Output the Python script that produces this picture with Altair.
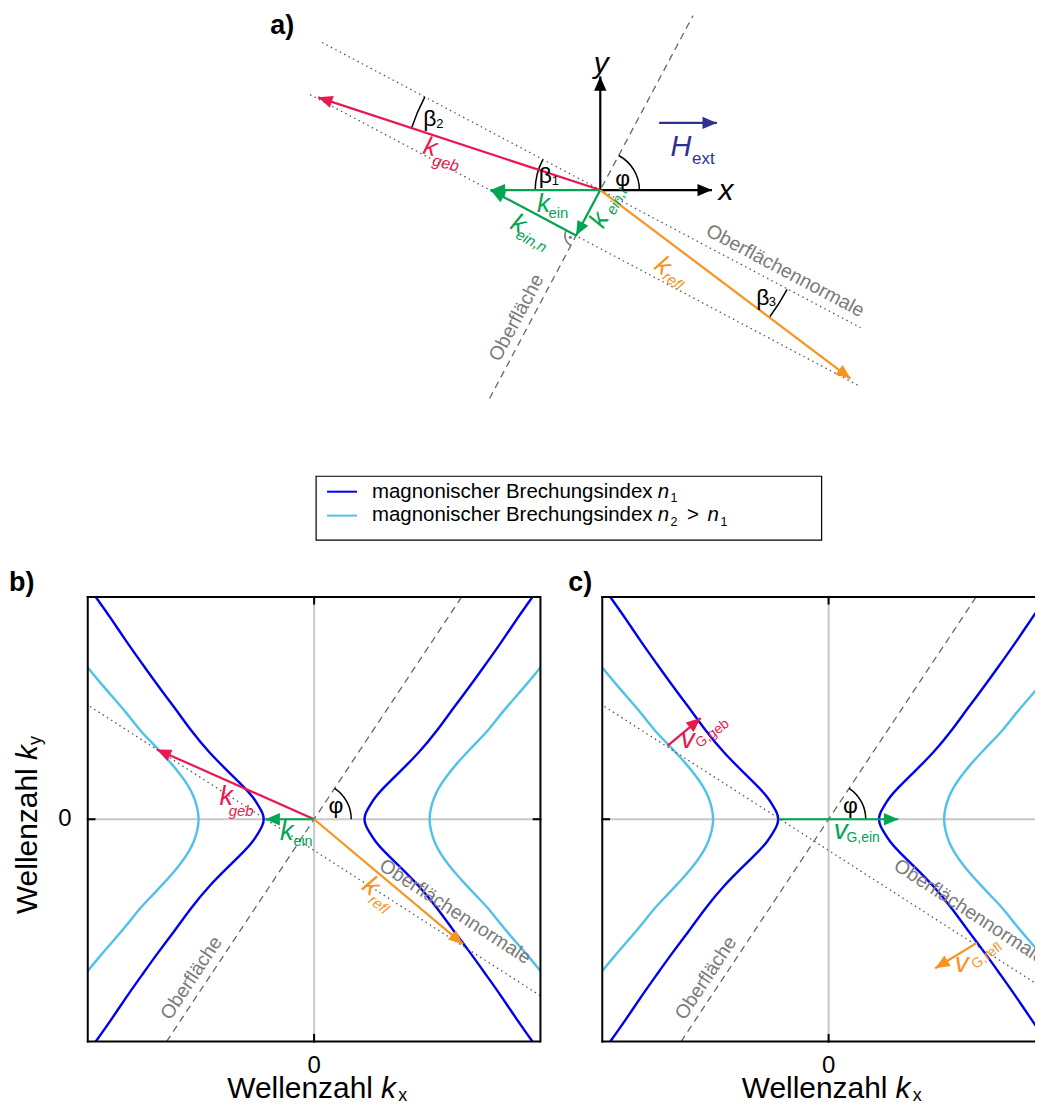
import math
import altair as alt
import pandas as pd

FONT = "Liberation Sans"
RED = "#e8194f"
GREEN = "#00a651"
ORANGE = "#f7941d"
BLUE = "#0000ee"
CYAN = "#4fc1ea"
NAVY = "#2e3192"
GRAY_TXT = "#7b7b7b"
GRAY_LINE = "#666666"
DOT_LINE = "#555555"
ZERO_LINE = "#c8c8c8"
BLACK = "#000000"

# ---------------- values ----------------
# one quarter of each iso-frequency curve: |k_x| for k_y >= 0 (panels b, c; axis range -1..1)
n1_ky = [0.0, 0.03, 0.06, 0.10, 0.14, 0.20, 0.30, 0.40, 0.50, 0.60, 0.70, 0.80, 0.90, 1.00, 1.05]
n1_kx = [0.220, 0.228, 0.245, 0.270, 0.305, 0.365, 0.465, 0.545, 0.615, 0.690, 0.760, 0.830, 0.895, 0.965, 1.000]
n2_ky = [0.0, 0.05, 0.10, 0.15, 0.20, 0.25, 0.30, 0.35, 0.40, 0.48, 0.55, 0.62, 0.67, 0.72]
n2_kx = [0.508, 0.515, 0.530, 0.555, 0.590, 0.630, 0.675, 0.722, 0.770, 0.830, 0.890, 0.950, 0.990, 1.030]

# panel a: vectors (origin = crossing of x and y axes)
a_arrow_x1 = [0.00, 0.00, 0.59, 0.00, 0.00, 0.00, -0.2425, 0.00]
a_arrow_y1 = [0.00, 0.00, 0.673, 0.00, 0.00, 0.00, -0.456, 0.00]
a_arrow_x2 = [1.12, 0.00, 1.17, -2.83, -1.10, -0.2425, -1.10, 2.51]
a_arrow_y2 = [0.00, 1.14, 0.673, 0.93, 0.00, -0.456, 0.00, -1.89]
a_arrow_col = [BLACK, BLACK, NAVY, RED, GREEN, GREEN, GREEN, ORANGE]
# panel a: surface (dashed) and surface normals (dotted)
a_surf = [-1.11, -2.09, 0.93, 1.75]
a_norm_x1 = [-2.79, -2.91]
a_norm_y1 = [1.48, 0.957]
a_norm_x2 = [2.61, 2.61]
a_norm_y2 = [-1.38, -1.971]
# panel a: angle arcs (centre, radius in px, from/to angle in degrees)
a_arc_cx = [0.0, 0.0, 0.0, 0.0, -0.2425]
a_arc_cy = [0.0, 0.0, 0.0, 0.0, -0.456]
a_arc_r = [40, 66, 200, 213, 12]
a_arc_from = [0, 152, 152, -37, 152]
a_arc_to = [62, 180, 162, -28, 242]
a_arc_col = [BLACK, BLACK, BLACK, BLACK, GRAY_TXT]

# panel b: wave vectors
b_arrow_x1 = [0.0, 0.0, 0.0]
b_arrow_y1 = [0.0, 0.0, 0.0]
b_arrow_x2 = [-0.695, -0.215, 0.658]
b_arrow_y2 = [0.314, 0.0, -0.562]
b_arrow_col = [RED, GREEN, ORANGE]
# panel c: group velocities
c_arrow_x1 = [-0.712, -0.220, 0.655]
c_arrow_y1 = [0.330, 0.0, -0.556]
c_arrow_x2 = [-0.565, 0.308, 0.471]
c_arrow_y2 = [0.455, 0.0, -0.670]
c_arrow_col = [RED, GREEN, ORANGE]
# panels b/c: surface (dashed) and normal (dotted)
bc_surf = [-0.652, -1.0, 0.652, 1.0]
bc_norm = [-0.99, 0.507, 1.0, -0.794]

HEAD = "M0,0L0.85,2L-0.85,2Z"


def sc(dom):
    return alt.Scale(domain=dom, nice=False, zero=False)


def seg_layer(x1, y1, x2, y2, cols, xs, ys, **mk):
    df = pd.DataFrame({"x1": x1, "y1": y1, "x2": x2, "y2": y2, "c": cols})
    return alt.Chart(df).mark_rule(**mk).encode(
        x=alt.X("x1:Q", scale=xs, axis=None), y=alt.Y("y1:Q", scale=ys, axis=None),
        x2="x2:Q", y2="y2:Q", color=alt.Color("c:N", scale=None))


def arrow_layers(x1, y1, x2, y2, cols, xs, ys, kx=1.0, ky=1.0, width=2.2, size=210):
    rule = seg_layer(x1, y1, x2, y2, cols, xs, ys, strokeWidth=width)
    ang = [(90 - math.degrees(math.atan2((b2 - b1) * ky, (a2 - a1) * kx))) % 360
           for a1, b1, a2, b2 in zip(x1, y1, x2, y2)]
    hd = pd.DataFrame({"x": x2, "y": y2, "a": ang, "c": cols})
    head = alt.Chart(hd).mark_point(shape=HEAD, filled=True, size=size, opacity=1, strokeWidth=0).encode(
        x=alt.X("x:Q", scale=xs, axis=None), y=alt.Y("y:Q", scale=ys, axis=None),
        angle=alt.Angle("a:Q", scale=None), color=alt.Color("c:N", scale=None))
    return [rule, head]


def arc_layer(cx, cy, r, a_from, a_to, cols, xs, ys, thick=1.5):
    t1, t2 = [], []
    for f, t in zip(a_from, a_to):
        s, e = 90 - t, 90 - f
        if s < 0:
            s += 360
            e += 360
        t1.append(math.radians(s))
        t2.append(math.radians(e))
    df = pd.DataFrame({"x": cx, "y": cy, "t1": t1, "t2": t2, "r": r,
                       "r2": [v - thick for v in r], "c": cols})
    return alt.Chart(df).mark_arc(clip=True).encode(
        x=alt.X("x:Q", scale=xs, axis=None), y=alt.Y("y:Q", scale=ys, axis=None),
        theta=alt.Theta("t1:Q", scale=None), theta2="t2:Q",
        radius=alt.Radius("r:Q", scale=None), radius2="r2:Q",
        color=alt.Color("c:N", scale=None))


def T(t, x, y, size, c=BLACK, style="normal", weight="normal", angle=0,
      align="center", baseline="middle", clip=False):
    return dict(t=t, x=x, y=y, size=size, c=c, style=style, weight=weight,
                angle=angle % 360, align=align, baseline=baseline, clip=clip)


def text_layers(rows, xs, ys):
    df = pd.DataFrame(rows)
    out = []
    for key, g in df.groupby(["style", "weight", "align", "baseline", "clip"]):
        style, weight, align, baseline, clip = key
        out.append(alt.Chart(g.reset_index(drop=True)).mark_text(
            font=FONT, fontStyle=style, fontWeight=weight, align=align,
            baseline=baseline, clip=bool(clip)).encode(
            x=alt.X("x:Q", scale=xs, axis=None), y=alt.Y("y:Q", scale=ys, axis=None),
            text="t:N", size=alt.Size("size:Q", scale=None),
            color=alt.Color("c:N", scale=None), angle=alt.Angle("angle:Q", scale=None)))
    return out


# ====================== panel a + legend ======================
# plot area of this view is aligned with the plot area of panel b (left edge)
A_XD = [-5.14, 4.31]
A_YD = [-3.61, 1.81]
axs, ays = sc(A_XD), sc(A_YD)

a_layers = []
a_layers.append(seg_layer([a_surf[0]], [a_surf[1]], [a_surf[2]], [a_surf[3]], [GRAY_LINE], axs, ays,
                          strokeWidth=1.3, strokeDash=[7, 5]))
a_layers.append(seg_layer(a_norm_x1, a_norm_y1, a_norm_x2, a_norm_y2, [DOT_LINE] * 2, axs, ays,
                          strokeWidth=1.3, strokeDash=[1.5, 3.5]))
a_layers.append(arc_layer(a_arc_cx, a_arc_cy, a_arc_r, a_arc_from, a_arc_to, a_arc_col, axs, ays))
a_layers.append(alt.Chart(pd.DataFrame({"x": [-0.30], "y": [-0.474]})).mark_point(
    filled=True, size=10, color=GRAY_TXT, opacity=1).encode(
    x=alt.X("x:Q", scale=axs, axis=None), y=alt.Y("y:Q", scale=ays, axis=None)))
a_layers += arrow_layers(a_arrow_x1, a_arrow_y1, a_arrow_x2, a_arrow_y2, a_arrow_col, axs, ays)

a_texts = [
    T("a)", -3.19, 1.65, 27, weight="bold"),
    T("x", 1.26, -0.01, 30, style="italic"),
    T("y", 0.01, 1.26, 30, style="italic"),
    T("H", 0.81, 0.43, 29, NAVY, style="italic"),
    T("ext", 0.92, 0.31, 17, NAVY, align="left"),
    T("φ", 0.225, 0.115, 23),
    T("β", -0.55, 0.14, 23), T("1", -0.45, 0.09, 13),
    T("β", -1.71, 0.715, 23), T("2", -1.61, 0.665, 13),
    T("β", 1.63, -1.085, 23), T("3", 1.725, -1.125, 13),
    T("k", -1.705, 0.43, 26, RED, style="italic", angle=15),
    T("geb", -1.55, 0.265, 16, RED, style="italic", angle=15),
    T("k", -0.57, -0.135, 26, GREEN, style="italic"),
    T("ein", -0.42, -0.23, 15, GREEN),
    T("k", -0.82, -0.34, 26, GREEN, style="italic", angle=28),
    T("ein,n", -0.69, -0.51, 15, GREEN, style="italic", angle=28),
    T("k", -0.01, -0.30, 26, GREEN, style="italic", angle=-62),
    T("ein,t", 0.165, -0.11, 15, GREEN, style="italic", angle=-62),
    T("k", 0.63, -0.76, 26, ORANGE, style="italic", angle=37),
    T("refl", 0.73, -0.91, 15, ORANGE, style="italic", angle=37),
    T("Oberfläche", -0.84, -1.28, 19.5, GRAY_TXT, angle=-62),
    T("Oberflächennormale", 1.855, -0.81, 19.5, GRAY_TXT, angle=28),
    # legend
    T("magnonischer Brechungsindex", -2.29, -3.027, 20.5, align="left"),
    T("n", 0.576, -3.027, 20.5, style="italic", align="left"),
    T("1", 0.705, -3.085, 12.5, align="left"),
    T("magnonischer Brechungsindex", -2.29, -3.26, 20.5, align="left"),
    T("n", 0.576, -3.26, 20.5, style="italic", align="left"),
    T("2", 0.705, -3.325, 12.5, align="left"),
    T(">", 0.93, -3.26, 20.5),
    T("n", 1.076, -3.26, 20.5, style="italic", align="left"),
    T("1", 1.205, -3.325, 12.5, align="left"),
]
a_layers += text_layers(a_texts, axs, ays)
# legend frame and samples
a_layers.append(alt.Chart(pd.DataFrame({"x": [-2.85], "x2": [2.22], "y": [-2.87], "y2": [-3.51]})).mark_rect(
    filled=False, color=BLACK, strokeWidth=1.2).encode(
    x=alt.X("x:Q", scale=axs, axis=None), x2="x2:Q", y=alt.Y("y:Q", scale=ays, axis=None), y2="y2:Q"))
a_layers.append(seg_layer([-2.74, -2.74], [-3.025, -3.265], [-2.44, -2.44], [-3.025, -3.265],
                          [BLUE, CYAN], axs, ays, strokeWidth=2))

top = alt.layer(*a_layers).properties(width=945, height=542)


# ====================== panels b, c ======================
PX = 227.0          # px per unit, horizontal
PH = 446            # panel height in px
PY = PH / 2.0       # px per unit, vertical


def curve_rows():
    rows = []
    for name, kx, ky, col in (("n1", n1_kx, n1_ky, BLUE), ("n2", n2_kx, n2_ky, CYAN)):
        for side in (-1, 1):
            pts = [(side * x, -y) for x, y in zip(reversed(kx), reversed(ky))]
            pts += [(side * x, y) for x, y in zip(kx[1:], ky[1:])]
            for i, (x, y) in enumerate(pts):
                rows.append({"x": x, "y": y, "i": i, "b": f"{name}{side}", "c": col})
    return pd.DataFrame(rows)


CURVES = curve_rows()


def panel(xmax, letter, letter_x, arrows, texts, right_border):
    xs, ys = sc([-1, xmax]), sc([-1, 1])
    L = []
    L.append(seg_layer([-1, 0], [0, -1], [xmax, 0], [0, 1], [ZERO_LINE] * 2, xs, ys, strokeWidth=2))
    L.append(alt.Chart(CURVES).mark_line(clip=True, interpolate="basis", strokeWidth=2.4).encode(
        x=alt.X("x:Q", scale=xs, axis=None), y=alt.Y("y:Q", scale=ys, axis=None),
        order="i:Q", detail="b:N", color=alt.Color("c:N", scale=None)))
    L.append(seg_layer([bc_surf[0]], [bc_surf[1]], [bc_surf[2]], [bc_surf[3]], [GRAY_LINE], xs, ys,
                       strokeWidth=1.3, strokeDash=[7, 5]))
    L.append(seg_layer([bc_norm[0]], [bc_norm[1]], [bc_norm[2]], [bc_norm[3]], [DOT_LINE], xs, ys,
                       strokeWidth=1.3, strokeDash=[1.5, 3.5], clip=True))
    L.append(arc_layer([0.0], [0.0], [38], [0], [56.5], [BLACK], xs, ys))
    L += arrow_layers(*arrows, xs, ys, kx=PX, ky=PY)
    rows = [
        T(letter, letter_x, 1.061, 27, weight="bold", align="left"),
        T("0", 0.0, -1.108, 24),
        T("Wellenzahl", 0.26, -1.252, 30, align="right", baseline="alphabetic"),
        T("k", 0.295, -1.252, 30, style="italic", align="left", baseline="alphabetic"),
        T("x", 0.372, -1.266, 18, align="left", baseline="alphabetic"),
        T("φ", 0.096, 0.058, 23),
        T("Oberfläche", -0.542, -0.714, 19.5, GRAY_TXT, angle=-56.5),
        T("Oberflächennormale", 0.623, -0.416, 19.5, GRAY_TXT, angle=33, clip=True),
    ] + texts
    L += text_layers(rows, xs, ys)
    # frame with inward ticks
    bx1 = [-1, -1, -1, 0, 0]
    by1 = [-1, 1, -1, 1, -1]
    bx2 = [xmax - 0.004, xmax - 0.004, -1, 0, 0]
    by2 = [-1, 1, 1, 0.97, -0.97]
    if right_border:
        bx1 += [1, 1]
        by1 += [-1, 0]
        bx2 += [1, 0.97]
        by2 += [1, 0]
    bx1 += [-1]
    by1 += [0]
    bx2 += [-0.97]
    by2 += [0]
    L.append(seg_layer(bx1, by1, bx2, by2, [BLACK] * len(bx1), xs, ys, strokeWidth=2, strokeCap="square"))
    return L


b_texts = [
    T("0", -1.101, 0.0, 24),
    T("Wellenzahl", -1.264, 0.229, 30, angle=-90, align="right"),
    T("k", -1.264, 0.266, 30, style="italic", angle=-90, align="left"),
    T("y", -1.227, 0.334, 18, angle=-90, align="left"),
    T("k", -0.388, 0.10, 27, RED, style="italic"),
    T("geb", -0.322, 0.038, 15, RED, style="italic"),
    T("k", -0.121, -0.059, 27, GREEN, style="italic"),
    T("ein", -0.049, -0.101, 14.5, GREEN),
    T("k", 0.251, -0.302, 27, ORANGE, style="italic", angle=38),
    T("refl", 0.286, -0.383, 15, ORANGE, style="italic", angle=38),
]
c_texts = [
    T("v", -0.622, 0.355, 28, RED, style="italic"),
    T("G,geb", -0.513, 0.385, 14, RED, angle=-37),
    T("v", 0.053, -0.055, 28, GREEN, style="italic"),
    T("G,ein", 0.079, -0.084, 14, GREEN, align="left"),
    T("v", 0.588, -0.650, 28, ORANGE, style="italic"),
    T("G,refl", 0.70, -0.615, 14, ORANGE, angle=-37),
]

C_W = 434                      # panel c runs into the right edge of the picture
C_XMAX = -1 + C_W / PX

pb = alt.layer(*panel(1.0, "b)", (8 - 314) / PX,
                      (b_arrow_x1, b_arrow_y1, b_arrow_x2, b_arrow_y2, b_arrow_col),
                      b_texts, True)).properties(width=454, height=PH)
pc = alt.layer(*panel(C_XMAX, "c)", -1.150,
                      (c_arrow_x1, c_arrow_y1, c_arrow_x2, c_arrow_y2, c_arrow_col),
                      c_texts, False)).properties(width=C_W, height=PH)

bottom = alt.hconcat(pb, pc, spacing=25)
chart = alt.vconcat(top, bottom, spacing=19).properties(
    padding=0, background="white").configure_view(stroke=None)

chart.save("out.html", embed_options={"renderer": "svg", "actions": False})
